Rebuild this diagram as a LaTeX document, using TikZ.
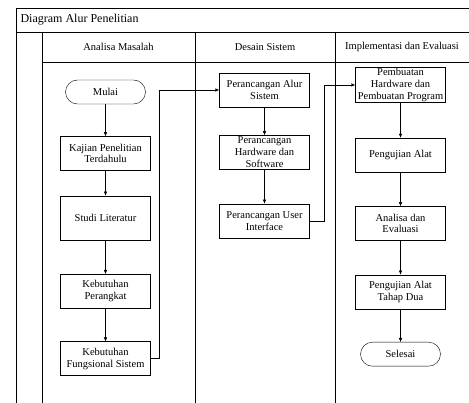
\documentclass[tikz,border=0pt]{standalone}
\usepackage{fontspec}
\setmainfont{Liberation Serif}
\usetikzlibrary{arrows.meta,positioning}
\tikzset{
    x=1pt,y=-1pt,semithick,
    box/.style ={rectangle, draw, minimum width=90pt, minimum height=34pt, inner sep=1pt,
                 align=center, font=\fontsize{10.5}{11.8}\selectfont},
    term/.style ={box, minimum width=80pt, minimum height=24pt, rounded corners=12pt},
    flow/.style = {-{Latex[length=4pt,width=3.5pt]}},
    lane/.style = {line width=0.7pt},
    head/.style = {font=\fontsize{10.5}{12}\selectfont}
}
\begin{document}
\begin{tikzpicture}
    \useasboundingbox (0,0) rectangle (469,403);
    % frame and lanes
    \draw[lane] (16,8) -- (469,8);
    \draw[lane] (16,32) -- (469,32);
    \draw[lane] (42,62) -- (469,62);
    \draw[lane] (16,8) -- (16,403);
    \foreach \x in {42,195,335} \draw[lane] (\x,32) -- (\x,403);
    \node[head,anchor=west] (judul) at (17,20) {\fontsize{12}{14}\selectfont Diagram Alur Penelitian};
    \node[head] (h1) at (118.5,47) {Analisa Masalah};
    \node[head] (h2) at (265,47) {Desain Sistem};
    \node[head] (h3) at (402,47) {Implementasi dan Evaluasi};

    % analisa masalah
    \node[term] (1) at (105.5,92) {Mulai};
    \node[box] (2) [below =32pt of 1] {Kajian Penelitian\\Terdahulu};
    \node[box,minimum height=44pt] (3) [below =25pt of 2] {Studi Literatur};
    \node[box] (4) [below =34pt of 3] {Kebutuhan\\Perangkat};
    \node[box] (5) [below =33pt of 4] {Kebutuhan\\Fungsional Sistem};

    % desain sistem
    \node[box] (6) at (264.5,90) {Perancangan Alur\\Sistem};
    \node[box] (7) [below =28pt of 6] {Perancangan\\Hardware dan\\Software};
    \node[box] (8) [below =34pt of 7] {Perancangan User\\Interface};

    % implementasi dan evaluasi
    \node[box] (9) at (400.5,85) {Pembuatan\\Hardware dan\\Pembuatan Program};
    \node[box] (10) [below =35pt of 9] {Pengujian Alat};
    \node[box] (11) [below =34pt of 10] {Analisa dan\\Evaluasi};
    \node[box] (12) [below =34pt of 11] {Pengujian Alat\\Tahap Dua};
    \node[term] (13) [below =33pt of 12] {Selesai};

    \foreach \a/\b in {1/2,2/3,3/4,4/5,6/7,7/8,9/10,10/11,11/12,12/13}
        \path[flow] (\a) edge (\b);
    \draw[flow] (5.east) -- ++(8,0) |- (6.west);
    \draw[flow] (8.east) -- ++(14,0) |- (9.west);
\end{tikzpicture}
\end{document}
